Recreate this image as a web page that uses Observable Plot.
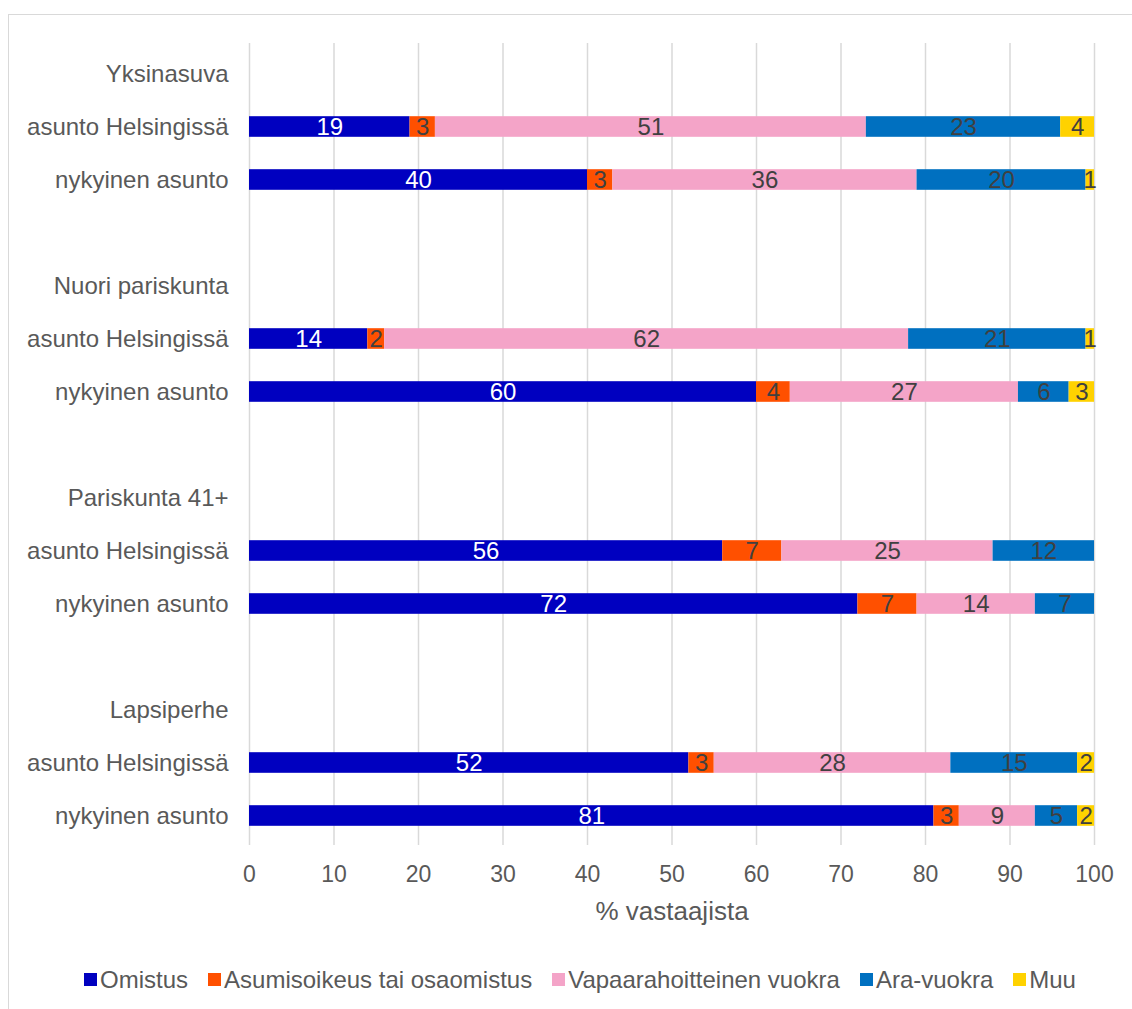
<!DOCTYPE html>
<html>
<head>
<meta charset="utf-8">
<script src="https://cdn.jsdelivr.net/npm/d3@7"></script>
<script src="https://cdn.jsdelivr.net/npm/@observablehq/plot@0.6"></script>
<style>
  html, body { margin: 0; padding: 0; background: #fff; width: 1132px; height: 1009px; overflow: hidden; }
  body { position: relative; font-family: "Liberation Sans", Arial, sans-serif; }
  #frame { position: absolute; left: 8px; top: 14px; width: 1200px; height: 1100px; border: 1.5px solid #d9d9d9; box-sizing: border-box; }
  #chart { position: absolute; left: 0; top: 0; }
  #legend { position: absolute; left: 0; top: 966px; width: 1160px; height: 27px; display: flex; justify-content: center; align-items: center; font-size: 24px; color: #595959; }
  .item { display: flex; align-items: center; margin-right: 20px; white-space: nowrap; }
  .item:last-child { margin-right: 0; }
  .sw { width: 13px; height: 13px; margin-right: 3px; }
</style>
</head>
<body>
<div id="frame"></div>
<div id="chart"></div>
<div id="legend"></div>
<script>
const rows = ["Yksinasuva", "asunto Helsingissä", "nykyinen asunto", "",
              "Nuori pariskunta", "asunto Helsingissä", "nykyinen asunto", "",
              "Pariskunta 41+", "asunto Helsingissä", "nykyinen asunto", "",
              "Lapsiperhe", "asunto Helsingissä", "nykyinen asunto"];
const series = ["Omistus", "Asumisoikeus tai osaomistus", "Vapaarahoitteinen vuokra", "Ara-vuokra", "Muu"];
const colors = ["#0000C0", "#FF5000", "#F4A4C8", "#0070C0", "#FFD200"];
const omistus      = [null, 19, 40, null, null, 14, 60, null, null, 56, 72, null, null, 52, 81];
const asumisoikeus = [null,  3,  3, null, null,  2,  4, null, null,  7,  7, null, null,  3,  3];
const vapaarahoit  = [null, 51, 36, null, null, 62, 27, null, null, 25, 14, null, null, 28,  9];
const aravuokra    = [null, 23, 20, null, null, 21,  6, null, null, 12,  7, null, null, 15,  5];
const muu          = [null,  4,  1, null, null,  1,  3, null, null,  0,  0, null, null,  2,  2];
const xTicks = [0, 10, 20, 30, 40, 50, 60, 70, 80, 90, 100];
const xLabel = "% vastaajista";

const valuesBySeries = [omistus, asumisoikeus, vapaarahoit, aravuokra, muu];
const keys = rows.map((_, i) => "r" + i);
const segs = [];
rows.forEach((r, i) => {
  let acc = 0;
  series.forEach((s, j) => {
    const v = valuesBySeries[j][i];
    if (v == null || v === 0) return;
    segs.push({key: keys[i], series: s, value: v, x1: acc, x2: acc + v, mid: acc + v / 2, white: j === 0});
    acc += v;
  });
});

const chart = Plot.plot({
  width: 1132,
  height: 945,
  marginLeft: 249,
  marginRight: 38,
  marginTop: 43,
  marginBottom: 100,
  style: {fontFamily: "'Liberation Sans', Arial, sans-serif", fontSize: "24px", color: "#595959", background: "transparent"},
  x: {domain: [0, 100], ticks: xTicks},
  y: {domain: keys, padding: 0},
  color: {domain: series, range: colors},
  marks: [
    Plot.gridX(xTicks, {stroke: "#d9d9d9", strokeOpacity: 1, strokeWidth: 1.5}),
    Plot.barX(segs, {y: "key", x1: "x1", x2: "x2", fill: "series", insetTop: 16.2, insetBottom: 16.2}),
    Plot.text(segs, {y: "key", x: "mid", text: d => String(d.value), fill: d => d.white ? "#ffffff" : "#404040", fontSize: 24}),
    Plot.axisX(xTicks, {tickSize: 0, tickPadding: 20, label: null, fontSize: 23}),
    Plot.text([xLabel], {frameAnchor: "bottom", dy: 66, lineAnchor: "middle", text: d => d, fontSize: 26, fill: "#595959"}),
    Plot.axisY({tickSize: 0, tickPadding: 21, label: null, fontSize: 24, tickFormat: k => rows[keys.indexOf(k)]})
  ]
});
document.getElementById("chart").appendChild(chart);

const legend = document.getElementById("legend");
series.forEach((s, j) => {
  const it = document.createElement("div");
  it.className = "item";
  const sw = document.createElement("div");
  sw.className = "sw";
  sw.style.background = colors[j];
  const t = document.createElement("span");
  t.textContent = s;
  it.appendChild(sw);
  it.appendChild(t);
  legend.appendChild(it);
});
</script>
</body>
</html>
